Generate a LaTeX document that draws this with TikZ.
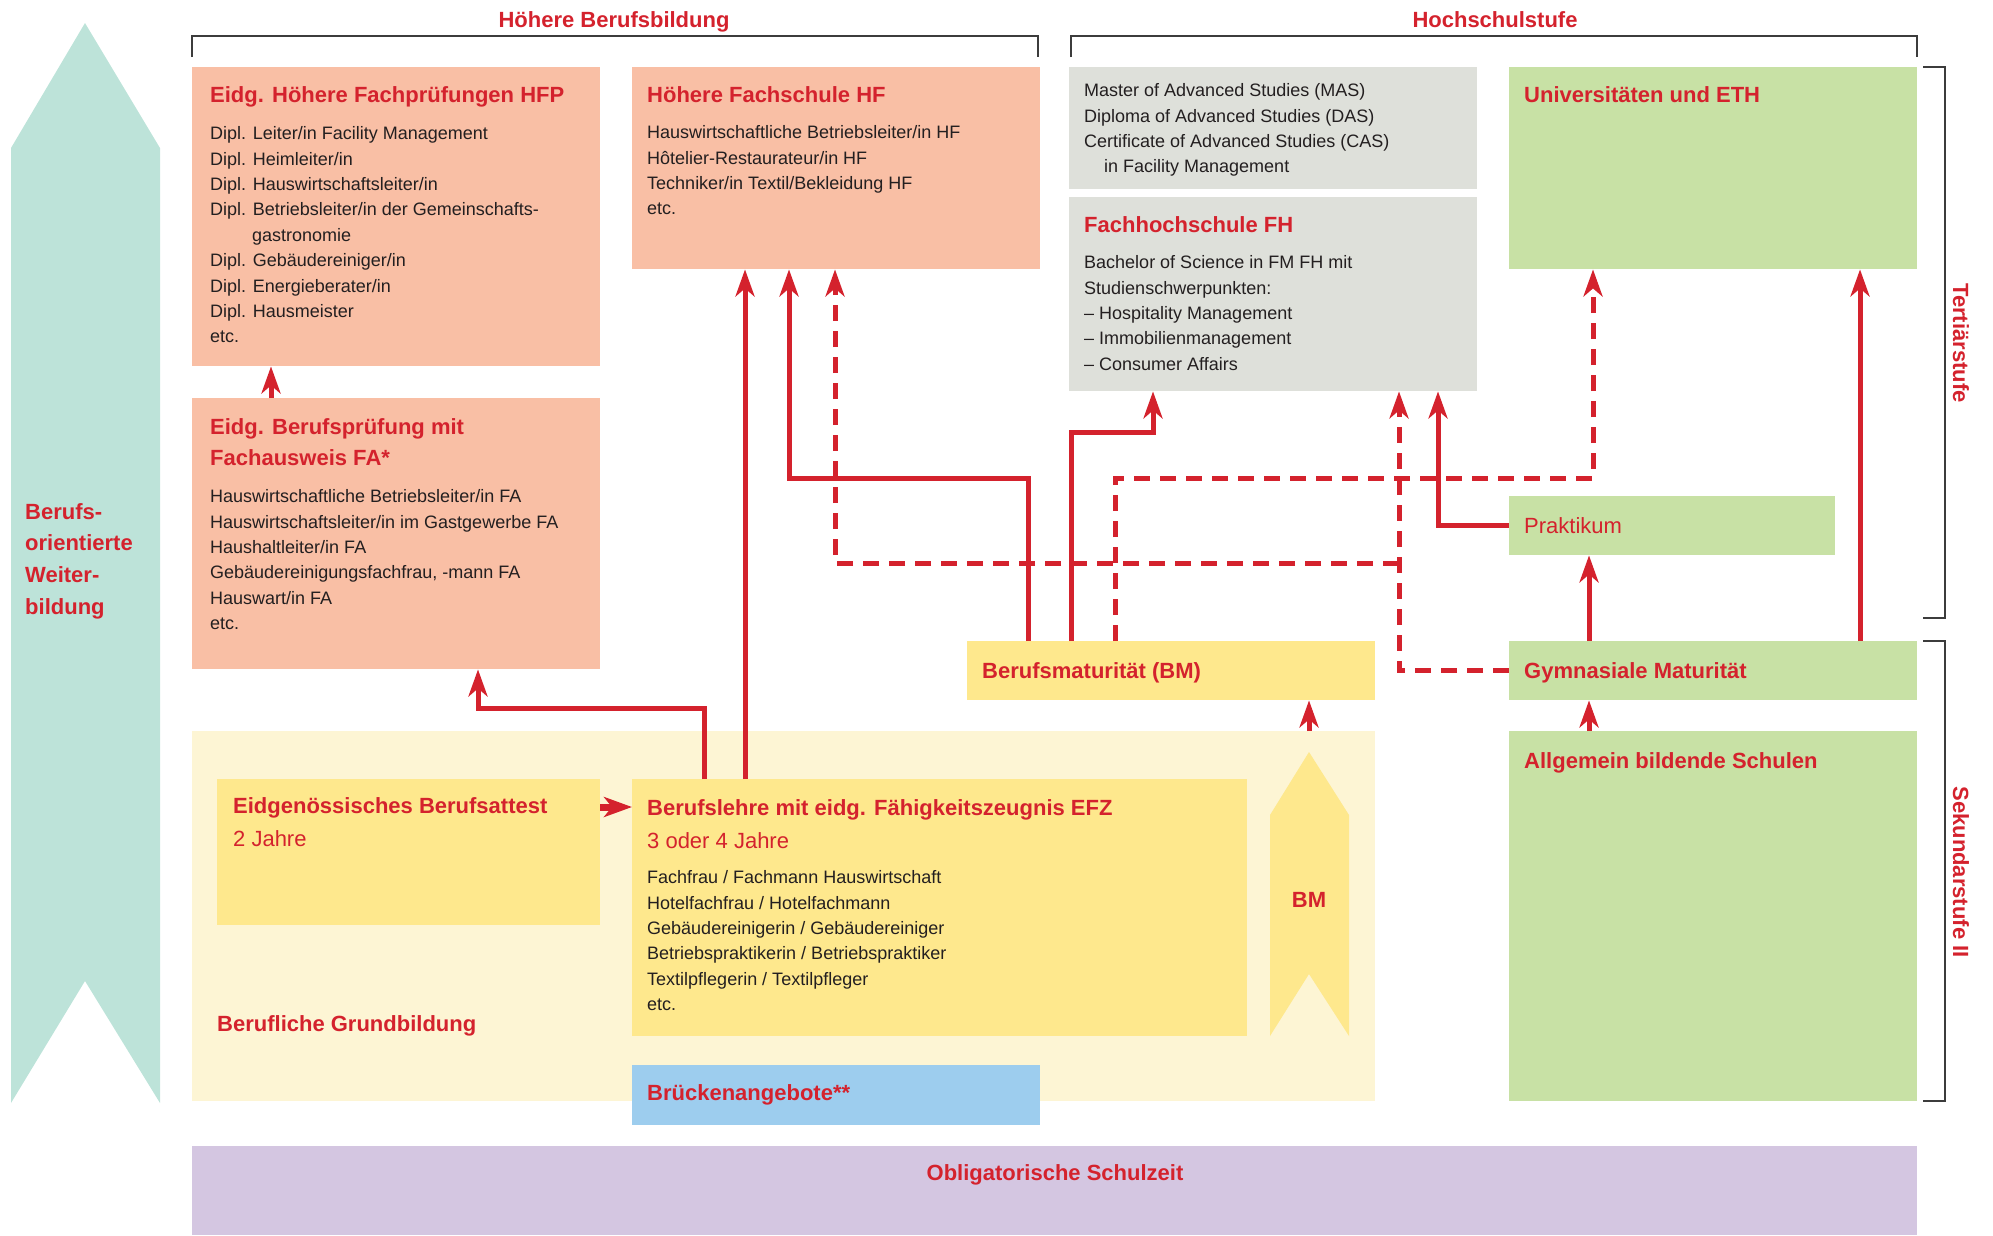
\documentclass[tikz,border=0pt]{standalone}
\usepackage{fontspec}
\setmainfont{Liberation Sans}
\usetikzlibrary{arrows.meta}

\definecolor{fmred}{RGB}{212,34,45}
\definecolor{fmtext}{RGB}{35,31,32}
\definecolor{lachs}{RGB}{249,191,165}
\definecolor{grau}{RGB}{222,224,218}
\definecolor{gruen}{RGB}{200,225,165}
\definecolor{gelb}{RGB}{254,232,141}
\definecolor{hellgelb}{RGB}{253,245,212}
\definecolor{blau}{RGB}{157,205,238}
\definecolor{lila}{RGB}{212,198,225}
\definecolor{tuerkis}{RGB}{189,227,217}
\definecolor{klammer}{RGB}{60,60,60}

\def\titel{\fontsize{22}{31.8}\selectfont\bfseries}
\def\grundtext{\fontsize{18}{25.4}\selectfont}

\tikzset{
	box/.style={draw=none, inner sep=0pt, anchor=north west},
	titeltext/.style={anchor=north west, inner sep=0pt, align=left, text=fmred, font=\titel},
	normtext/.style={anchor=north west, inner sep=0pt, align=left, text=fmred, font=\fontsize{22}{31.8}\selectfont},
	listtext/.style={anchor=north west, inner sep=0pt, align=left, text=fmtext, font=\grundtext},
	pfeil/.style={draw=fmred, line width=5pt, -{Stealth[length=27pt, width=19pt, inset=8pt]}},
	pfeilstrich/.style={pfeil, dash pattern=on 16pt off 10pt},
	klammerlinie/.style={draw=klammer, line width=2pt}
}

\begin{document}
\begin{tikzpicture}[x=1pt, y=-1pt]
			\useasboundingbox (0,0) rectangle (1993,1235);
			%%%%% START %%%%%
			
			\fill[tuerkis] (11,1103) -- (11,148) -- (85,23) -- (160,148) -- (160,1103) -- (85,981) -- cycle;
			\node[titeltext] (weiter) at (25,496.6) {\strut Berufs-\\orientierte\\Weiter-\\bildung};
			
			\node[titeltext, anchor=base] (hbb) at (614,27) {Höhere Berufsbildung};
			\node[titeltext, anchor=base] (hsst) at (1495,27) {Hochschulstufe};
			\draw[klammerlinie] (192,57) |- (1038,36) -- (1038,57);
			\draw[klammerlinie] (1071,57) |- (1917,36) -- (1917,57);
			\draw[klammerlinie] (1923,67) -| (1945,618) -- (1923,618);
			\draw[klammerlinie] (1923,641) -| (1945,1101) -- (1923,1101);
			\node[titeltext, anchor=center, rotate=-90] (tert) at (1961,343) {Tertiärstufe};
			\node[titeltext, anchor=center, rotate=-90] (sek) at (1961,872) {Sekundarstufe II};
			
			%%%%% KAESTEN %%%%%
			\node[box, fill=lachs, minimum width=408pt, minimum height=299pt] (hfp) at (192,67) {};
			\node[box, fill=lachs, minimum width=408pt, minimum height=202pt] (hf) at (632,67) {};
			\node[box, fill=grau, minimum width=408pt, minimum height=122pt] (mas) at (1069,67) {};
			\node[box, fill=grau, minimum width=408pt, minimum height=194pt] (fh) at (1069,197) {};
			\node[box, fill=gruen, minimum width=408pt, minimum height=202pt] (uni) at (1509,67) {};
			\node[box, fill=lachs, minimum width=408pt, minimum height=271pt] (fa) at (192,398) {};
			\node[box, fill=gruen, minimum width=326pt, minimum height=59pt] (prak) at (1509,496) {};
			\node[box, fill=gelb, minimum width=408pt, minimum height=59pt] (bm) at (967,641) {};
			\node[box, fill=gruen, minimum width=408pt, minimum height=59pt] (gym) at (1509,641) {};
			\node[box, fill=hellgelb, minimum width=1183pt, minimum height=370pt] (grund) at (192,731) {};
			\node[box, fill=gruen, minimum width=408pt, minimum height=370pt] (allg) at (1509,731) {};
			\node[box, fill=gelb, minimum width=383pt, minimum height=146pt] (eba) at (217,779) {};
			\node[box, fill=gelb, minimum width=615pt, minimum height=257pt] (efz) at (632,779) {};
			\node[box, fill=blau, minimum width=408pt, minimum height=60pt] (bruecke) at (632,1065) {};
			\node[box, fill=lila, minimum width=1725pt, minimum height=89pt] (oblig) at (192,1146) {};
			
			\fill[gelb] (1270,1036) -- (1270,815) -- (1309,752) -- (1349,815) -- (1349,1036) -- (1309,974) -- cycle;
			\node[titeltext, anchor=base] (bmpfeil) at (1309,907) {BM};
			
			%%%%% TEXTE %%%%%
			\node[titeltext] (hfp-titel) at (210,79.6) {\strut Eidg. Höhere Fachprüfungen HFP};
			\node[listtext] (hfp-liste) at (210,121.7) {\strut Dipl. Leiter/in Facility Management\\
				Dipl. Heimleiter/in\\
				Dipl. Hauswirtschaftsleiter/in\\
				Dipl. Betriebsleiter/in der Gemeinschafts-\\
				\hspace*{42pt}gastronomie\\
				Dipl. Gebäudereiniger/in\\
				Dipl. Energieberater/in\\
				Dipl. Hausmeister\\
				etc.};
			
			\node[titeltext] (hf-titel) at (647,79.6) {\strut Höhere Fachschule HF};
			\node[listtext] (hf-liste) at (647,120.7) {\strut Hauswirtschaftliche Betriebsleiter/in HF\\
				Hôtelier-Restaurateur/in HF\\
				Techniker/in Textil/Bekleidung HF\\
				etc.};
			
			\node[listtext] (mas-liste) at (1084,78.7) {\strut Master of Advanced Studies (MAS)\\
				Diploma of Advanced Studies (DAS)\\
				Certificate of Advanced Studies (CAS)\\
				\hspace*{20pt}in Facility Management};
			
			\node[titeltext] (fh-titel) at (1084,209.6) {\strut Fachhochschule FH};
			\node[listtext] (fh-liste) at (1084,250.7) {\strut Bachelor of Science in FM FH mit\\
				Studienschwerpunkten:\\
				– Hospitality Management\\
				– Immobilienmanagement\\
				– Consumer Affairs};
			
			\node[titeltext] (uni-titel) at (1524,79.6) {\strut Universitäten und ETH};
			
			\node[titeltext] (fa-titel) at (210,411.6) {\strut Eidg. Berufsprüfung mit\\Fachausweis FA*};
			\node[listtext] (fa-liste) at (210,484.7) {\strut Hauswirtschaftliche Betriebsleiter/in FA\\
				Hauswirtschaftsleiter/in im Gastgewerbe FA\\
				Haushaltleiter/in FA\\
				Gebäudereinigungsfachfrau, -mann FA\\
				Hauswart/in FA\\
				etc.};
			
			\node[normtext] (prak-text) at (1524,510.6) {\strut Praktikum};
			\node[titeltext] (bm-text) at (982,655.6) {\strut Berufsmaturität (BM)};
			\node[titeltext] (gym-text) at (1524,655.6) {\strut Gymnasiale Maturität};
			\node[titeltext] (allg-text) at (1524,745.6) {\strut Allgemein bildende Schulen};
			
			\node[titeltext] (eba-titel) at (233,790.6) {\strut Eidgenössisches Berufsattest};
			\node[normtext] (eba-dauer) at (233,823.6) {\strut 2 Jahre};
			\node[titeltext] (efz-titel) at (647,792.6) {\strut Berufslehre mit eidg. Fähigkeitszeugnis EFZ};
			\node[normtext] (efz-dauer) at (647,825.6) {\strut 3 oder 4 Jahre};
			\node[listtext] (efz-liste) at (647,865.7) {\strut Fachfrau / Fachmann Hauswirtschaft\\
				Hotelfachfrau / Hotelfachmann\\
				Gebäudereinigerin / Gebäudereiniger\\
				Betriebspraktikerin / Betriebspraktiker\\
				Textilpflegerin / Textilpfleger\\
				etc.};
			\node[titeltext] (grund-text) at (217,1008.6) {\strut Berufliche Grundbildung};
			\node[titeltext] (bruecke-text) at (647,1077.6) {\strut Brückenangebote**};
			\node[titeltext, anchor=base] (oblig-text) at (1055,1180) {Obligatorische Schulzeit};
			
			%%%%% PFEILE %%%%%
			\coordinate (abzweig) at (1399,563);
			\draw[pfeil] (271,0 |- fa.north) -- (271,0 |- hfp.south);
			\draw[pfeil] (704,0 |- efz.north) |- (478,708) -- (478,0 |- fa.south);
			\draw[pfeil] (745,0 |- efz.north) -- (745,0 |- hf.south);
			\draw[pfeil] (1028,0 |- bm.north) |- (789,478) -- (789,0 |- hf.south);
			\draw[pfeil] (1071,0 |- bm.north) |- (1153,432) -- (1153,0 |- fh.south);
			\draw[pfeilstrich] (1115,0 |- bm.north) |- (1593,478) -- (1593,0 |- uni.south);
			\draw[pfeilstrich] (gym.west) -| (1399,0 |- fh.south);
			\draw[pfeilstrich] (abzweig) -| (835,0 |- hf.south);
			\draw[pfeil] (prak.west) -| (1438,0 |- fh.south);
			\draw[pfeil] (1589,0 |- gym.north) -- (1589,0 |- prak.south);
			\draw[pfeil] (1860,0 |- gym.north) -- (1860,0 |- uni.south);
			\draw[pfeil] (1589,0 |- allg.north) -- (1589,0 |- gym.south);
			\draw[pfeil] (1309,0 |- grund.north) -- (1309,0 |- bm.south);
			\draw[pfeil, line width=7pt, -{Stealth[length=28pt, width=20pt, inset=8pt]}] (eba.east |- 0,807) -- (efz.west |- 0,807);
			
			%%%%% END %%%%%
\end{tikzpicture}
\end{document}
